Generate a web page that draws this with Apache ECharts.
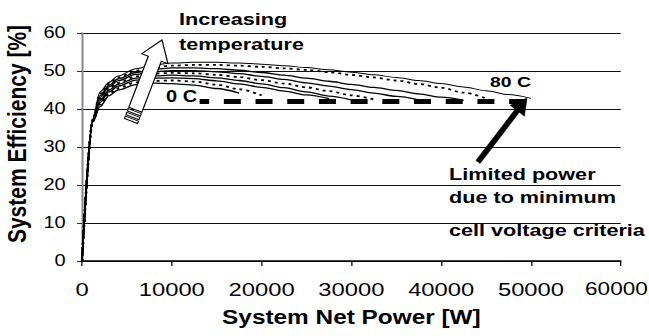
<!DOCTYPE html>
<html><head><meta charset="utf-8">
<script src="https://cdn.jsdelivr.net/npm/echarts@6/dist/echarts.min.js"></script>
<style>
html,body{margin:0;padding:0;background:#fff;overflow:hidden}
#wrap{width:649px;height:336px;overflow:hidden}
#c{width:519.2px;height:336px;transform:scaleX(1.25);transform-origin:0 0}
</style>
</head><body><div id="wrap"><div id="c"></div></div>
<script>
const SX = 1.25;
const FONT = 'Liberation Sans, Arial, sans-serif';

// System net power [W]
const powerW = [0,1200,2000,3000,4000,6000,8000,10000,12500,15000,17500,20000,22500,25000,27500,30000,32500,35000,37500,40000,42500,45000,47500,50000];
// System efficiency [%] per temperature
const eff80 = [0,37.4,44.5,47,48.7,50.6,51.6,52.1,52.3,52.3,52.1,51.8,51.4,50.9,50.3,49.7,49.0,48.3,47.5,46.7,45.8,44.8,43.8,42.8];
const eff70 = [0,37.3,44,46.6,48.3,50.1,51,51.4,51.6,51.6,51.4,51.1,50.7,50.3,49.7,49.0,48.3,47.5,46.6,45.6,44.3,42.8,null,null];
const eff60 = [0,37.2,43.5,46.2,47.9,49.6,50.4,50.8,50.8,50.6,50.2,49.6,48.9,48.1,47.3,46.5,45.7,44.9,44.0,43.1,42.3,null,null,null];
const eff50 = [0,37.1,43,45.8,47.4,49.1,49.8,50.1,50.1,49.8,49.3,48.6,47.8,46.9,46.0,45.1,44.2,43.3,42.4,null,null,null,null,null];
const eff40 = [0,37,42.6,45.4,46.9,48.6,49.3,49.5,49.4,49.0,48.4,47.6,46.7,45.7,44.7,43.6,42.5,null,null,null,null,null,null,null];
const eff30 = [0,36.9,42.2,45,46.5,48.1,48.7,48.9,48.7,48.2,47.5,46.6,45.6,44.5,43.4,42.4,null,null,null,null,null,null,null,null];
const eff20 = [0,36.8,41.7,44.5,46,47.6,48.1,48.2,48.0,47.4,46.6,45.7,44.7,43.7,42.7,null,null,null,null,null,null,null,null,null];
const eff10 = [0,36.7,41.2,44,45.5,47,47.4,47.5,47.2,46.4,45.2,43.6,null,null,null,null,null,null,null,null,null,null,null,null];
const eff0  = [0,36.6,40.6,43.5,45,46.4,46.8,46.7,46.3,45.4,44.2,null,null,null,null,null,null,null,null,null,null,null,null,null];
const temps = ['80 C','70 C','60 C','50 C','40 C','30 C','20 C','10 C','0 C'];
const effSets = [eff80,eff70,eff60,eff50,eff40,eff30,eff20,eff10,eff0];
const dotted = [false,true,false,false,true,false,false,true,false];
// limited power line (minimum cell voltage criteria)
const limitPower = [13100, 49600];
const limitEff = 42;

const series = effSets.map((arr, k) => ({
  name: temps[k], type: 'line', showSymbol: false, smooth: 0.3, smoothMonotone: 'x',
  silent: true, z: 2,
  data: powerW.map((w, i) => [w, arr[i]]).filter(p => p[1] !== null),
  lineStyle: dotted[k] ? {color:'#000', width:1.8, type:[2.4,3.2]} : {color:'#000', width: k === 0 ? 1 : 1.3}
}));
series.push({
  name: 'limit', type: 'line', showSymbol: false, silent: true, z: 3,
  data: limitPower.map(w => [w, limitEff]),
  lineStyle: {color:'#000', width:5, type:[13.6,11.76], dashOffset:5.6}
});

function vecPts(T, H, list){
  const dx = H[0]-T[0], dy = H[1]-T[1], L = Math.hypot(dx,dy);
  const u = [dx/L, dy/L], n = [-u[1], u[0]];
  return list.map(([t,s]) => {
    const tt = t < 0 ? L + t : t;
    return [(T[0] + tt*u[0] + s*n[0]) / SX, T[1] + tt*u[1] + s*n[1]];
  });
}
const hT = [131,121], hH = [162,40];
const hollow = vecPts(hT, hH, [[12,-7],[-20,-7],[-20,-14],[-0.0001,0],[-20,14],[-20,7],[12,7]]);
const stripes = [0,4,8].map(t0 => vecPts(hT, hH, [[t0,-7],[t0+2.5,-7],[t0+2.5,7],[t0,7]]));
const bT = [478,162], bH = [527,98];
const blackArrow = vecPts(bT, bH, [[0,-2.6],[-16,-2.6],[-16,-9],[-0.0001,0],[-16,9],[-16,2.6],[0,2.6]]);

function txt(s, xpx, y, size){
  return {type:'text', z:100, x: xpx/SX, y: y, style:{text:s, fill:'#000', font:'bold '+size+'px '+FONT, align:'left', verticalAlign:'middle'}};
}

const graphics = [
  {type:'polygon', z:90, shape:{points:hollow}, style:{fill:'#fff', stroke:'#000', lineWidth:1}},
  ...stripes.map(p => ({type:'polygon', z:90, shape:{points:p}, style:{fill:'#fff', stroke:'#000', lineWidth:0.9}})),
  {type:'polygon', z:90, shape:{points:blackArrow}, style:{fill:'#000', stroke:'#000', lineWidth:0.5}},
  txt('Increasing', 179, 19, 17.3),
  txt('temperature', 179, 44, 17.3),
  txt('0 C', 166, 97, 16),
  txt('80 C', 490, 82, 15.5),
  txt('Limited power', 449, 174, 17.3),
  txt('due to minimum', 449, 197, 17.3),
  txt('cell voltage criteria', 449, 230, 17.3)
];

const chart = echarts.init(document.getElementById('c'), null, {renderer:'svg'});
chart.setOption({
  animation: false,
  backgroundColor: '#fff',
  grid: {left: 65.6, right: 22.4, top: 33, bottom: 75, containLabel: false, outerBoundsMode: 'none'},
  xAxis: {
    type:'value', min:0, max:60000, interval:10000,
    name:'System Net Power [W]', nameLocation:'middle', nameGap:46,
    nameTextStyle:{fontSize:19.5, fontWeight:'bold', color:'#000', fontFamily:FONT},
    axisLine:{show:true, onZero:false, lineStyle:{color:'#000', width:1.5}},
    axisTick:{show:true, length:5, lineStyle:{color:'#000', width:1}},
    axisLabel:{color:'#000', fontSize:19, fontFamily:FONT, margin:19,
      formatter: v => v === 60000 ? '{last|' + v + '}' : String(v),
      rich:{last:{fontSize:18, fontFamily:FONT, color:'#000', padding:[0,7,0,0]}}},
    splitLine:{show:false}
  },
  yAxis: {
    type:'value', min:0, max:60, interval:10,
    name:'System Efficiency [%]', nameLocation:'middle', nameGap:39,
    nameTextStyle:{fontSize:21, fontWeight:'bold', color:'#000', fontFamily:FONT, padding:[0,0,0,26]},
    axisLine:{show:true, lineStyle:{color:'#888', width:1.6}},
    axisTick:{show:true, length:4, lineStyle:{color:'#333', width:1}},
    axisLabel:{color:'#000', fontSize:16, fontFamily:FONT, margin:13},
    splitLine:{show:true, lineStyle:{color:'#111', width:1}}
  },
  series: series,
  graphic: graphics
});
</script>
</body></html>
